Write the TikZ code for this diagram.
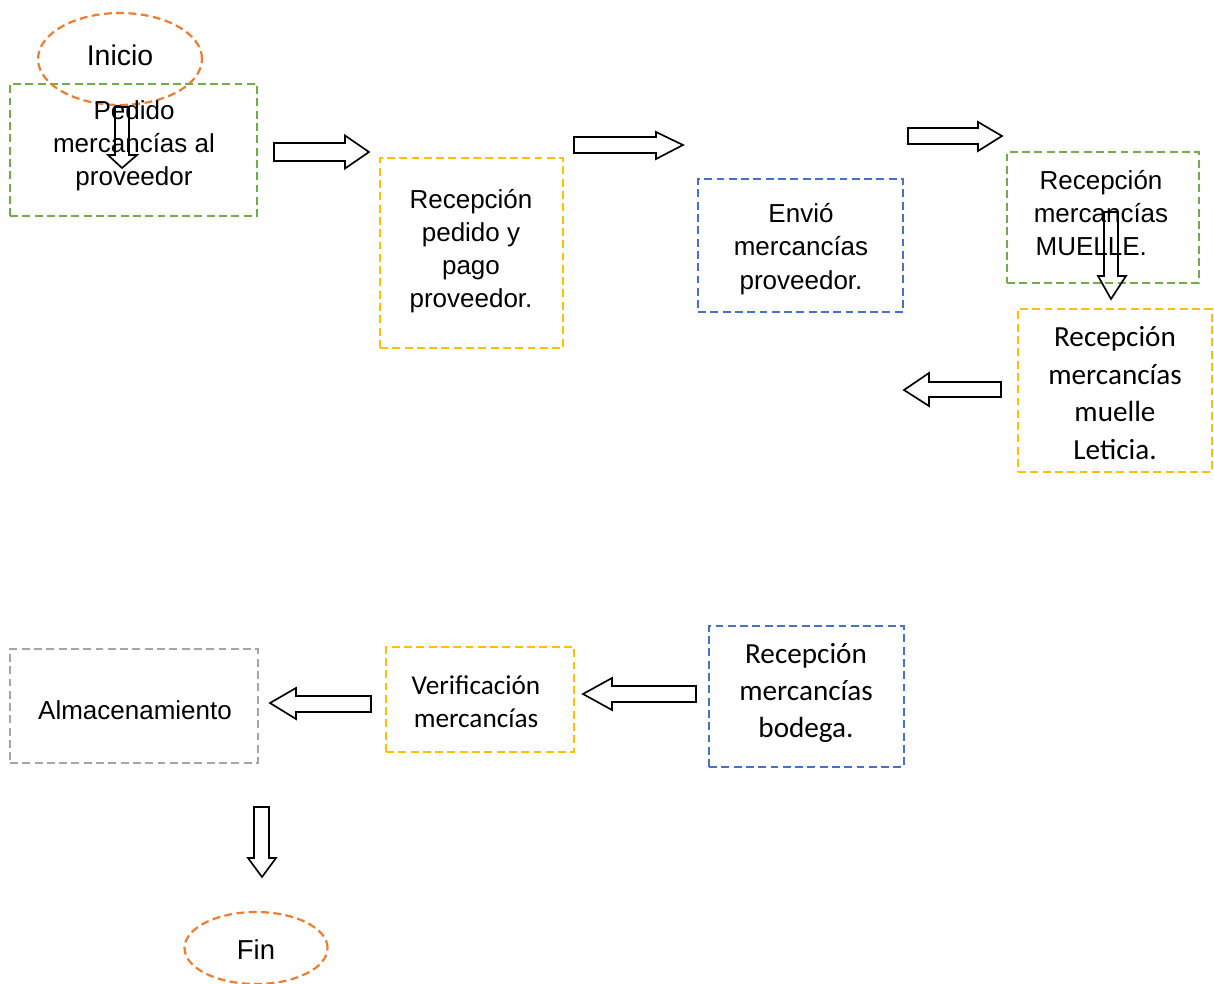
\documentclass[tikz,border=0pt]{standalone}
\usepackage{fontspec}
\setmainfont{Liberation Sans}
\newfontfamily\calfont{Carlito}
\usetikzlibrary{shapes.geometric,fit}
\definecolor{cOrange}{HTML}{ED7D31}
\definecolor{cGreen}{HTML}{70AD47}
\definecolor{cYellow}{HTML}{FFC000}
\definecolor{cBlue}{HTML}{4472C4}
\definecolor{cGray}{HTML}{A5A5A5}
\begin{document}
\begin{tikzpicture}[x=0.02cm,y=-0.02cm,
  dashbox/.style={draw=#1, line width=1.25pt, dash pattern=on 4.5pt off 2.5pt, inner sep=0pt, rectangle},
  oval/.style={draw=cOrange, line width=1.25pt, dash pattern=on 4.5pt off 2.5pt, ellipse, inner sep=0pt},
  blockarrow/.style={draw=black, line width=0.95pt, line join=miter},
  arialtxt/.style={align=center, font=\fontsize{14.8}{18.7}\selectfont, inner sep=0pt},
  caltxt/.style={align=center, inner sep=0pt}]
\useasboundingbox (0,0) rectangle (1214,984);

% boxes
\node[dashbox=cGreen, fit={(10,84) (257,216)}] (pedido) {};
\node[dashbox=cYellow, fit={(380,158) (563,348)}] (pago) {};
\node[dashbox=cBlue, fit={(698,179) (903,312)}] (envio) {};
\node[dashbox=cGreen, fit={(1007,152) (1199,283)}] (muelle) {};
\node[dashbox=cYellow, fit={(1018,309) (1212,472)}] (leticia) {};
\node[dashbox=cBlue, fit={(709,626) (904,767)}] (bodega) {};
\node[dashbox=cYellow, fit={(386,647) (574,752)}] (verif) {};
\node[dashbox=cGray, fit={(10,649) (258,763)}] (almac) {};

% ellipses
\node[oval, minimum width=3.28cm, minimum height=1.84cm] (inicio) at (120,59) {};
\node[oval, minimum width=2.86cm, minimum height=1.44cm] (fin) at (256,948) {};

% texts
\node[font=\fontsize{16.2}{19}\selectfont, inner sep=0pt] (inicio-t) at (120,55) {Inicio};
\node[font=\fontsize{15.6}{19}\selectfont, inner sep=0pt] (fin-t) at (256,950) {Fin};
\node[arialtxt] (pedido-t) at (134,146) {Pedido\\mercancías al\\proveedor};
\node[arialtxt] (pago-t) at (471,251) {Recepción\\pedido y\\pago\\proveedor.};
\node[arialtxt, font=\fontsize{14.8}{19.1}\selectfont] (envio-t) at (801,249) {Envió\\mercancías\\proveedor.};
\node[arialtxt] (muelle-t) at (1101,213) {Recepción\\mercancías\\MUELLE.\hspace*{11pt}};
\node[caltxt, font=\calfont\fontsize{16.6}{21.5}\selectfont] (leticia-t) at (1115,393) {Recepción\\mercancías\\muelle\\Leticia.};
\node[caltxt, font=\calfont\fontsize{16.6}{21}\selectfont] (bodega-t) at (806,693) {Recepción\\mercancías\\bodega.};
\node[caltxt, font=\calfont\fontsize{15.5}{18.7}\selectfont] (verif-t) at (476,702) {Verificación\\mercancías};
\node[arialtxt] (almac-t) at (135,710) {Almacenamiento};

% block arrows
% inside Pedido, pointing down
\draw[blockarrow] (115,107) -- (129,107) -- (129,155) -- (137,155) -- (122,168) -- (108,155) -- (115,155) -- cycle;
% right arrows top row
\draw[blockarrow] (274,143) -- (345,143) -- (345,135.5) -- (369,152) -- (345,168.5) -- (345,161) -- (274,161) -- cycle;
\draw[blockarrow] (574,137) -- (656,137) -- (656,132) -- (683,145) -- (656,159) -- (656,153) -- (574,153) -- cycle;
\draw[blockarrow] (908,128) -- (978,128) -- (978,122) -- (1002,136) -- (978,151) -- (978,144) -- (908,144) -- cycle;
% inside MUELLE, pointing down
\draw[blockarrow] (1104,212) -- (1118,212) -- (1118,276) -- (1126,276) -- (1111,299) -- (1098,276) -- (1104,276) -- cycle;
% left arrow beside Leticia
\draw[blockarrow] (1001,382) -- (929,382) -- (929,373) -- (904,390) -- (929,406) -- (929,397) -- (1001,397) -- cycle;
% left arrows bottom row
\draw[blockarrow] (696,686) -- (612,686) -- (612,678) -- (583,694) -- (612,710) -- (612,702) -- (696,702) -- cycle;
\draw[blockarrow] (371,696) -- (296,696) -- (296,688) -- (270,703) -- (296,719) -- (296,712) -- (371,712) -- cycle;
% down arrow to Fin
\draw[blockarrow] (254,807) -- (269,807) -- (269,858) -- (276,858) -- (262,877) -- (248,858) -- (254,858) -- cycle;
\end{tikzpicture}
\end{document}
